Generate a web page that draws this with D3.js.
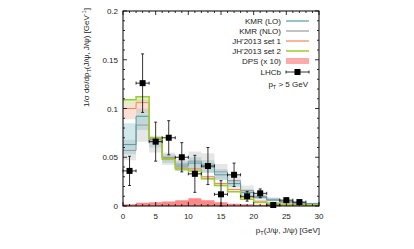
<!DOCTYPE html>
<html><head><meta charset="utf-8">
<script src="https://cdn.jsdelivr.net/npm/d3@7"></script>
<style>body{margin:0;background:#fff}svg{display:block}text{font-family:"Liberation Sans",Arial,sans-serif;font-size:8px;fill:#222}</style>
</head><body><svg id="c" width="414" height="249"></svg>
<script>
// bins of 2 GeV from 0 to 30
const binEdges = d3.range(0, 32, 2);
const kmrLO    = [0.063,0.092,0.068,0.049,0.041,0.044,0.040,0.032,0.023,0.014,0.009,0.006,0.004,0.003,0.0022];
const kmrLOlo  = [0.053,0.078,0.060,0.044,0.036,0.038,0.034,0.027,0.019,0.011,0.007,0.0045,0.003,0.002,0.0015];
const kmrLOhi  = [0.085,0.100,0.071,0.053,0.046,0.050,0.047,0.038,0.027,0.017,0.011,0.0075,0.005,0.0038,0.003];
const kmrNLO   = [0.057,0.083,0.066,0.050,0.043,0.046,0.043,0.035,0.026,0.016,0.010,0.007,0.0045,0.0033,0.0025];
const kmrNLOlo = [0.047,0.066,0.055,0.042,0.036,0.037,0.034,0.027,0.020,0.012,0.007,0.005,0.003,0.0022,0.0016];
const kmrNLOhi = [0.068,0.094,0.072,0.055,0.048,0.056,0.054,0.043,0.032,0.021,0.013,0.009,0.006,0.0045,0.0035];
const jh1      = [0.100,0.106,0.069,0.049,0.039,0.038,0.030,0.023,0.017,0.009,0.005,0.003,0.002,0.0015,0.0012];
const jh1lo    = [0.089,0.095,0.066,0.047,0.037,0.036,0.028,0.021,0.0155,0.008,0.0043,0.0027,0.0017,0.0013,0.001];
const jh1hi    = [0.104,0.109,0.070,0.050,0.040,0.039,0.031,0.024,0.018,0.010,0.0055,0.0033,0.0022,0.0017,0.0014];
const jh2      = [0.109,0.112,0.070,0.048,0.038,0.036,0.028,0.021,0.0145,0.0068,0.0035,0.0025,0.0015,0.0012,0.001];
const jh2lo    = [0.104,0.107,0.069,0.047,0.037,0.035,0.027,0.020,0.014,0.0062,0.0032,0.0022,0.0013,0.001,0.0008];
const dps      = [0.0017,0.0034,0.0038,0.0045,0.0058,0.0079,0.0058,0.0038,0.0024,0.0017,0.0012,0.001,0.001,0.001,0.001];
const lhcbX    = [1,3,5,7,9,11,13,15,17,19,21,23,25,27];
const lhcbY    = [0.036,0.126,0.066,0.070,0.050,0.033,0.041,0.012,0.032,0.010,0.013,0.001,0.006,0.004];
const lhcbErr  = [0.015,0.030,0.020,0.0175,0.015,0.019,0.019,0.014,0.012,0.005,0.0045,0.001,0.002,0.002];
const xTicks = [0,5,10,15,20,25,30];
const yTicks = [0,0.05,0.1,0.15,0.2];
const yTickLabels = ["0","0.05","0.1","0.15","0.2"];
const legendLabels = ["KMR (LO)","KMR (NLO)","JH'2013 set 1","JH'2013 set 2","DPS (x 10)","LHCb"];

const svg = d3.select("#c");
const L=123, R=319, T=11, B=206;
const x = d3.scaleLinear().domain([0,30]).range([L,R]);
const y = d3.scaleLinear().domain([0,0.2]).range([B,T]);

svg.append("defs").append("clipPath").attr("id","cp").append("rect")
  .attr("x",L).attr("y",T).attr("width",R-L).attr("height",B-T);
const g = svg.append("g").attr("clip-path","url(#cp)");

function stepPts(vals){ const p = vals.map((v,i)=>[binEdges[i],v]); p.push([binEdges[vals.length], vals[vals.length-1]]); return p; }
function band(lo,hi,color,op){
  const pts = lo.map((v,i)=>({x:binEdges[i],lo:v,hi:hi[i]}));
  pts.push({x:binEdges[lo.length],lo:lo[lo.length-1],hi:hi[hi.length-1]});
  g.append("path").datum(pts).attr("fill",color).attr("fill-opacity",op)
   .attr("d",d3.area().curve(d3.curveStepAfter).x(d=>x(d.x)).y0(d=>y(d.lo)).y1(d=>y(d.hi)));
}
function line(vals,color,w){
  g.append("path").datum(stepPts(vals)).attr("fill","none").attr("stroke",color).attr("stroke-width",w)
   .attr("d",d3.line().curve(d3.curveStepAfter).x(d=>x(d[0])).y(d=>y(d[1])));
}
const cLO="#4f9da6", cNLO="#9a9a9a", cJH1="#f0855e", cJH2="#9acd32", cDPS="#ff5f5f";
band(kmrNLOlo,kmrNLOhi,"#b8b8b8",0.35);
band(kmrLOlo,kmrLOhi,"#7fb9c0",0.35);
band(jh1lo,jh1hi,"#f4a58a",0.35);
band(jh2lo,jh2,"#a8d65a",0.35);
band(dps.map(()=>0),dps,cDPS,0.75);
line(kmrNLO,cNLO,1);
line(kmrLO,cLO,1);
line(jh1,cJH1,1);
line(jh2,cJH2,1.5);

// LHCb points
const pg = svg.append("g");
lhcbX.forEach((xv,i)=>{
  const cx=x(xv), cy=y(lhcbY[i]), y1=y(lhcbY[i]+lhcbErr[i]), y0=y(Math.max(0,lhcbY[i]-lhcbErr[i]));
  const xl=x(xv-1), xr=x(xv+1);
  pg.append("line").attr("x1",xl).attr("x2",xr).attr("y1",cy).attr("y2",cy).attr("stroke","#000").attr("stroke-width",0.8);
  pg.append("line").attr("x1",xl).attr("x2",xl).attr("y1",cy-1.5).attr("y2",cy+1.5).attr("stroke","#000").attr("stroke-width",0.8);
  pg.append("line").attr("x1",xr).attr("x2",xr).attr("y1",cy-1.5).attr("y2",cy+1.5).attr("stroke","#000").attr("stroke-width",0.8);
  pg.append("line").attr("x1",cx).attr("x2",cx).attr("y1",y1).attr("y2",y0).attr("stroke","#000").attr("stroke-width",0.8);
  pg.append("line").attr("x1",cx-1.5).attr("x2",cx+1.5).attr("y1",y1).attr("y2",y1).attr("stroke","#000").attr("stroke-width",0.8);
  pg.append("line").attr("x1",cx-1.5).attr("x2",cx+1.5).attr("y1",y0).attr("y2",y0).attr("stroke","#000").attr("stroke-width",0.8);
  pg.append("rect").attr("x",cx-3).attr("y",cy-3).attr("width",6).attr("height",6).attr("fill","#000");
});

// frame + ticks (inward, mirrored)
svg.append("rect").attr("x",L).attr("y",T).attr("width",R-L).attr("height",B-T).attr("fill","none").attr("stroke","#000").attr("stroke-width",1);
const tk = svg.append("g").attr("stroke","#000").attr("stroke-width",0.8);
d3.range(0,31,1).forEach(v=>{ const len = v%5===0?4:2; const px=x(v);
  tk.append("line").attr("x1",px).attr("x2",px).attr("y1",B).attr("y2",B-len);
  tk.append("line").attr("x1",px).attr("x2",px).attr("y1",T).attr("y2",T+len); });
d3.range(0,21,1).forEach(k=>{ const v=k*0.01; const len = k%5===0?4:2; const py=y(v);
  tk.append("line").attr("x1",L).attr("x2",L+len).attr("y1",py).attr("y2",py);
  tk.append("line").attr("x1",R).attr("x2",R-len).attr("y1",py).attr("y2",py); });
xTicks.forEach(v=>svg.append("text").attr("x",x(v)).attr("y",219).attr("text-anchor","middle").text(v));
yTicks.forEach((v,i)=>svg.append("text").attr("x",118).attr("y",y(v)+3).attr("text-anchor","end").text(yTickLabels[i]));

// axis labels
const xl = svg.append("text").attr("x",320).attr("y",233).attr("text-anchor","end");
xl.append("tspan").text("p");
xl.append("tspan").attr("font-size","5.5px").attr("dy",2).text("T");
xl.append("tspan").attr("dy",-2).text("(J/ψ, J/ψ) [GeV]");
const yl = svg.append("text").attr("transform","translate(89,8) rotate(-90)").attr("text-anchor","end");
yl.append("tspan").text("1/σ dσ/dp");
yl.append("tspan").attr("font-size","5.5px").attr("dy",2).text("T");
yl.append("tspan").attr("dy",-2).text("(J/ψ, J/ψ) [GeV");
yl.append("tspan").attr("font-size","5.5px").attr("dy",-3).text("-1");
yl.append("tspan").attr("dy",3).text("]");

// legend
const legY = [21,31,41,51,61,72];
const legColors = [cLO,cNLO,cJH1,cJH2,cDPS];
legendLabels.forEach((t,i)=>{
  svg.append("text").attr("x",281).attr("y",legY[i]+3).attr("text-anchor","end").text(t);
  if(i<4){ svg.append("line").attr("x1",286).attr("x2",309).attr("y1",legY[i]).attr("y2",legY[i]).attr("stroke",legColors[i]).attr("stroke-width",i===3?1.5:1.2); }
  else if(i===4){ svg.append("rect").attr("x",286).attr("y",legY[i]-3).attr("width",23).attr("height",6).attr("fill","#ffaaaa"); }
  else {
    const cy=legY[i];
    svg.append("line").attr("x1",286).attr("x2",309).attr("y1",cy).attr("y2",cy).attr("stroke","#000").attr("stroke-width",0.8);
    svg.append("line").attr("x1",286).attr("x2",286).attr("y1",cy-1.5).attr("y2",cy+1.5).attr("stroke","#000").attr("stroke-width",0.8);
    svg.append("line").attr("x1",309).attr("x2",309).attr("y1",cy-1.5).attr("y2",cy+1.5).attr("stroke","#000").attr("stroke-width",0.8);
    svg.append("rect").attr("x",294.5).attr("y",cy-3).attr("width",6).attr("height",6).attr("fill","#000");
  }
});
const pt = svg.append("text").attr("x",308).attr("y",87).attr("text-anchor","end");
pt.append("tspan").text("p");
pt.append("tspan").attr("font-size","5.5px").attr("dy",2).text("T");
pt.append("tspan").attr("dy",-2).text(" > 5 GeV");
</script></body></html>
